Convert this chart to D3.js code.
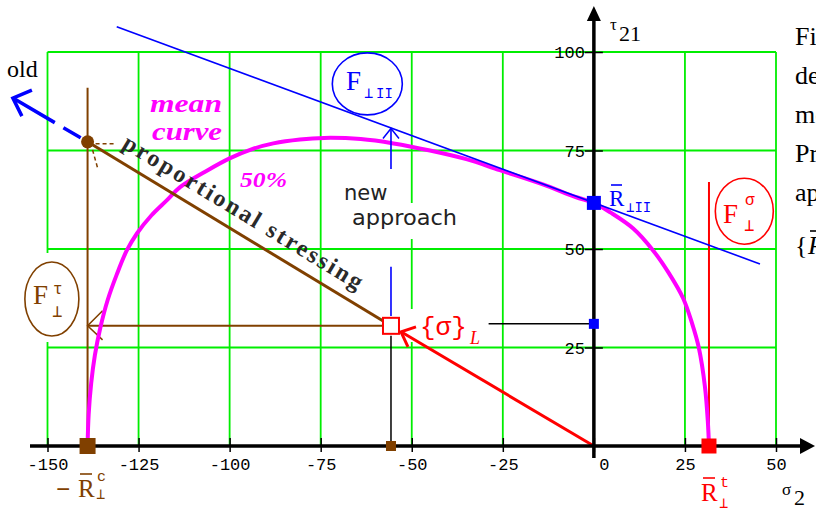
<!DOCTYPE html>
<html>
<head>
<meta charset="utf-8">
<script src="https://cdn.jsdelivr.net/npm/d3@7"></script>
<style>
  body { margin: 0; background: #fff; }
  svg { display: block; }
</style>
</head>
<body>
<svg id="chart" width="816" height="510"></svg>
<script>
// axis ticks
var xTicks = [-150, -125, -100, -75, -50, -25, 0, 25, 50];
var yTicks = [25, 50, 75, 100];

// mean (50%) failure curve [sigma2, tau21]
var meanCurve = [
  [-139, 0], [-138.7, 8], [-138, 16], [-137, 23], [-135.5, 30], [-133.5, 37],
  [-131, 43.5], [-128.3, 49.5], [-125.4, 54], [-121.5, 58.5], [-117.2, 62.4],
  [-113.6, 65.7], [-106, 70], [-100, 73], [-94, 75.3], [-88, 76.8], [-80.7, 77.8],
  [-74, 78.2], [-64, 77.9], [-55, 76.8], [-45, 75], [-35, 72.8], [-25.8, 70],
  [-14, 66.4], [-5, 63.2], [0, 61.7], [4.5, 59.3], [10.8, 55.2], [16.2, 49.7],
  [20.5, 44], [24.5, 37.5], [27, 31], [28.8, 25], [30.5, 15], [31.3, 6], [31.6, 0]
];

// tangent of the new approach
var tangentLine = [[-131, 106.4], [45.6, 46.2]];

// strengths
var Rc = -139, Rt = 31.6, Rpar = 61.7;
var stressPoint = [-55.7, 30.5];
var oldPoint = [-139, 77.2];
var oldTip = [-159.5, 88.3];
var newArrow = [[-55.7, 70.3], [-55.7, 80.6]];
var newStub = [[-55.7, 33], [-55.7, 45.5]];
var tauLevel = [[-28.9, 31], [0, 31]];
var brownTop = 90.9, redTop = 67;

var svg = d3.select("#chart");
var W = 816, H = 510;
svg.append("rect").attr("width", W).attr("height", H).attr("fill", "#fff");

var x = d3.scaleLinear().domain([-150, 50]).range([47.5, 776]);
var y = d3.scaleLinear().domain([0, 100]).range([446, 52]);

var green = "#00ee00", brown = "#804000", blue = "#0000ff", red = "#ff0000", magenta = "#ff00ff";
var mono = "'Liberation Mono', monospace", serif = "'Liberation Serif', serif";

// grid
var grid = svg.append("g").attr("stroke", green).attr("stroke-width", 1.8);
grid.selectAll(".gv").data(xTicks.filter(d => d !== 0)).enter().append("line")
    .attr("x1", d => x(d)).attr("x2", d => x(d))
    .attr("y1", y(0)).attr("y2", y(100));
grid.selectAll(".gh").data(yTicks).enter().append("line")
    .attr("x1", x(-150)).attr("x2", x(50))
    .attr("y1", d => y(d)).attr("y2", d => y(d));

// white label boxes that break the grid
var boxes = svg.append("g").attr("fill", "#fff");
boxes.append("rect").attr("x", 22).attr("y", 253).attr("width", 62).attr("height", 89);
boxes.append("rect").attr("x", 350).attr("y", 203).attr("width", 110).attr("height", 36);
boxes.append("rect").attr("x", 405).attr("y", 309).attr("width", 82).attr("height", 33);

var line = d3.line().x(d => x(d[0])).y(d => y(d[1]));

// brown guides
svg.append("line").attr("x1", x(Rc)).attr("x2", x(Rc)).attr("y1", y(0)).attr("y2", y(brownTop))
    .attr("stroke", brown).attr("stroke-width", 2);
svg.append("line").attr("x1", x(Rc)).attr("x2", x(stressPoint[0]) - 8)
    .attr("y1", y(stressPoint[1])).attr("y2", y(stressPoint[1]))
    .attr("stroke", brown).attr("stroke-width", 2);
svg.append("path")
    .attr("d", "M" + (x(Rc) + 15) + "," + (y(stressPoint[1]) - 15) + "L" + x(Rc) + "," + y(stressPoint[1]) +
               "L" + (x(Rc) + 15) + "," + (y(stressPoint[1]) + 14))
    .attr("fill", "none").attr("stroke", brown).attr("stroke-width", 1.5);

// black stub from stress point to axis
svg.append("line").attr("x1", x(stressPoint[0])).attr("x2", x(stressPoint[0]))
    .attr("y1", y(stressPoint[1]) + 10).attr("y2", y(0))
    .attr("stroke", "#000").attr("stroke-width", 1.5);
svg.append("path").attr("d", line(tauLevel)).attr("stroke", "#000").attr("stroke-width", 1.5);

// red strength line
svg.append("line").attr("x1", x(Rt)).attr("x2", x(Rt)).attr("y1", y(0)).attr("y2", y(redTop))
    .attr("stroke", red).attr("stroke-width", 2);

// mean curve
var smooth = d3.line().x(d => x(d[0])).y(d => y(d[1])).curve(d3.curveCatmullRom.alpha(0.5));
svg.append("path").attr("d", smooth(meanCurve))
    .attr("fill", "none").attr("stroke", magenta).attr("stroke-width", 4);

// tangent
svg.append("path").attr("d", line(tangentLine))
    .attr("stroke", blue).attr("stroke-width", 1.6).attr("fill", "none");

// new approach arrow
svg.append("path").attr("d", line(newArrow)).attr("stroke", blue).attr("stroke-width", 1.6);
svg.append("path").attr("d", line(newStub)).attr("stroke", blue).attr("stroke-width", 1.6);
var nt = [x(newArrow[1][0]), y(newArrow[1][1])];
svg.append("path")
    .attr("d", "M" + (nt[0] - 8) + "," + (nt[1] + 10) + "L" + nt[0] + "," + nt[1] + "L" + (nt[0] + 8) + "," + (nt[1] + 10))
    .attr("fill", "none").attr("stroke", blue).attr("stroke-width", 1.5);

// proportional stressing line
svg.append("path").attr("d", line([oldPoint, stressPoint]))
    .attr("stroke", brown).attr("stroke-width", 3).attr("fill", "none");

// old direction (dashed blue)
svg.append("path").attr("d", line([oldPoint, oldTip]))
    .attr("stroke", blue).attr("stroke-width", 3.5).attr("fill", "none")
    .attr("stroke-dasharray", "4,4,20,10,60");
var ot = [x(oldTip[0]), y(oldTip[1])];
svg.append("path")
    .attr("d", "M" + (ot[0] + 19) + "," + (ot[1] - 8) + "L" + ot[0] + "," + ot[1] + "L" + (ot[0] + 9) + "," + (ot[1] + 18))
    .attr("fill", "none").attr("stroke", blue).attr("stroke-width", 3.5);

// red stress vector
var sp = [x(stressPoint[0]) + 10, y(stressPoint[1]) + 6];
svg.append("line").attr("x1", x(0)).attr("y1", y(0)).attr("x2", sp[0]).attr("y2", sp[1])
    .attr("stroke", red).attr("stroke-width", 3);
svg.append("path")
    .attr("d", "M" + (sp[0] + 15) + "," + (sp[1] - 5) + "L" + sp[0] + "," + sp[1] + "L" + (sp[0] + 7) + "," + (sp[1] + 15))
    .attr("fill", "none").attr("stroke", red).attr("stroke-width", 3);

// axes
var axisG = svg.append("g");
axisG.append("line").attr("x1", 30).attr("x2", 802).attr("y1", y(0)).attr("y2", y(0))
    .attr("stroke", "#000").attr("stroke-width", 3.5);
axisG.append("path").attr("d", "M800," + (y(0) - 8) + "L815," + y(0) + "L800," + (y(0) + 8) + "Z");
axisG.append("line").attr("x1", x(0)).attr("x2", x(0)).attr("y1", 458).attr("y2", 20)
    .attr("stroke", "#000").attr("stroke-width", 3.5);
axisG.append("path").attr("d", "M" + (x(0) - 7) + ",21L" + x(0) + ",6L" + (x(0) + 7) + ",21Z");

var fmt = d => d < 0 ? "-" + Math.abs(d) : String(d);
var xAxis = svg.append("g").attr("transform", "translate(0," + y(0) + ")")
    .call(d3.axisBottom(x).tickValues(xTicks).tickFormat(fmt).tickSize(6));
xAxis.select(".domain").remove();
xAxis.selectAll(".tick line").attr("y1", -8).attr("y2", 6).attr("stroke-width", 1.5);
xAxis.selectAll(".tick text").attr("y", 24).attr("dy", 0)
    .attr("font-family", mono).attr("font-size", 17).attr("fill", "#000")
    .attr("dx", d => d === 0 ? 10 : 0);

var yAxis = svg.append("g").attr("transform", "translate(" + x(0) + ",0)")
    .call(d3.axisLeft(y).tickValues(yTicks).tickSize(8));
yAxis.select(".domain").remove();
yAxis.selectAll(".tick line").attr("x1", -9).attr("x2", 9).attr("stroke-width", 1.5);
yAxis.selectAll(".tick text").attr("x", -9).attr("dy", "0.35em")
    .attr("font-family", mono).attr("font-size", 17).attr("fill", "#000");

// markers
function square(cx, cy, s, fill) {
  svg.append("rect").attr("x", cx - s / 2).attr("y", cy - s / 2).attr("width", s).attr("height", s).attr("fill", fill);
}
square(x(Rc), y(0), 16, brown);
square(x(Rt), y(0), 15, red);
square(x(0), y(Rpar), 14, blue);
square(x(0), y(tauLevel[0][1]), 10, blue);
square(x(stressPoint[0]), y(0), 10, brown);
svg.append("circle").attr("cx", x(oldPoint[0])).attr("cy", y(oldPoint[1])).attr("r", 6.5).attr("fill", brown);
svg.append("path")
    .attr("d", "M" + (x(oldPoint[0]) + 8) + "," + (y(oldPoint[1]) + 2) + "L" + (x(oldPoint[0]) + 26) + "," + (y(oldPoint[1]) + 2) +
               "M" + (x(oldPoint[0]) + 5) + "," + (y(oldPoint[1]) + 8) + "L" + (x(oldPoint[0]) + 10) + "," + (y(oldPoint[1]) + 26))
    .attr("stroke", brown).attr("stroke-width", 1.5).attr("stroke-dasharray", "4,3");
svg.append("rect").attr("x", x(stressPoint[0]) - 8).attr("y", y(stressPoint[1]) - 8)
    .attr("width", 16).attr("height", 16).attr("fill", "#fff").attr("stroke", red).attr("stroke-width", 2);

// label ellipses
function ell(cx, cy, rx, ry, col) {
  svg.append("ellipse").attr("cx", cx).attr("cy", cy).attr("rx", rx).attr("ry", ry)
      .attr("fill", "#fff").attr("stroke", col).attr("stroke-width", 1.6);
}
ell(x(-62.2), y(91.9), 35, 31, blue);
ell(x(41.3), y(59.6), 29, 33, red);
ell(x(-148.8), y(37.3), 27, 37, brown);

// text helper
function txt(px, py, s, size, col, fam, extra) {
  var t = svg.append("text").attr("x", px).attr("y", py).text(s)
      .attr("font-size", size).attr("fill", col).attr("font-family", fam || mono);
  if (extra) extra(t);
  return t;
}
function bar(px, py, w, col) {
  svg.append("line").attr("x1", px).attr("x2", px + w).attr("y1", py).attr("y2", py)
      .attr("stroke", col).attr("stroke-width", 1.6);
}

// F labels
txt(346, 90, "F", 27, blue, serif);
txt(364, 98, "\u22a5", 15, blue);
txt(376, 98, "II", 14, blue);

txt(723, 223, "F", 27, red, serif);
txt(745, 205, "\u03c3", 16, red);
txt(744, 231, "\u22a5", 17, red);

txt(33, 304, "F", 27, brown, serif);
txt(53, 294, "\u03c4", 16, brown);
txt(52, 317, "\u22a5", 17, brown);

// strengths labels
txt(609, 206, "R", 23, blue, serif); bar(611, 185, 11, blue);
txt(626, 212, "\u22a5II", 14, blue);

txt(56, 497, "\u2212", 24, brown);
txt(78, 497, "R", 25, brown, serif); bar(80, 474, 12, brown);
txt(97, 481, "c", 15, brown);
txt(96, 499, "\u22a5", 15, brown);

txt(701, 501, "R", 25, red, serif); bar(703, 478, 12, red);
txt(720, 487, "t", 15, red);
txt(719, 508, "\u22a5", 15, red);

// stress label
txt(420, 335, "{\u03c3}", 26, red);
txt(470, 344, "L", 18, red, serif, t => t.attr("font-style", "italic"));

// axis titles
txt(610, 30, "\u03c4", 17, "#000", serif);
txt(619, 41, "21", 22, "#000", serif);
txt(782, 495, "\u03c3", 17, "#000", serif);
txt(794, 505, "2", 22, "#000", serif);

// annotation words
txt(7, 77, "old", 24, "#000", serif);
txt(150, 112, "mean", 26, magenta, serif, t => t.attr("font-weight", "bold").attr("font-style", "italic")
    .attr("textLength", 72).attr("lengthAdjust", "spacingAndGlyphs"));
txt(152, 140, "curve", 26, magenta, serif, t => t.attr("font-weight", "bold").attr("font-style", "italic")
    .attr("textLength", 70).attr("lengthAdjust", "spacingAndGlyphs"));
txt(240, 187, "50%", 22, magenta, serif, t => t.attr("font-weight", "bold").attr("font-style", "italic")
    .attr("textLength", 47).attr("lengthAdjust", "spacingAndGlyphs"));
txt(344, 200, "new", 21, "#222", "'DejaVu Sans', sans-serif");
txt(352, 225, "approach", 21, "#222", "'DejaVu Sans', sans-serif", t => t.attr("textLength", 105).attr("lengthAdjust", "spacingAndGlyphs"));

var ang = Math.atan2(y(stressPoint[1]) - y(oldPoint[1]), x(stressPoint[0]) - x(oldPoint[0])) * 180 / Math.PI;
svg.append("text")
    .attr("transform", "translate(" + x(-129.8) + "," + y(75.8) + ") rotate(" + ang + ")")
    .attr("font-family", serif).attr("font-size", 24).attr("font-weight", "bold").attr("fill", "#2a2a2a")
    .attr("textLength", 276).attr("lengthAdjust", "spacing")
    .text("proportional stressing");

// cut-off text of the page at the right border
var sideText = ["Fig.", "demo", "mean", "Pro", "appr"];
svg.selectAll(".side").data(sideText).enter().append("text")
    .attr("x", 795).attr("y", (d, i) => 45 + i * 39)
    .attr("font-family", serif).attr("font-size", 26).attr("fill", "#000")
    .text(d => d);
txt(795, 254, "{", 26, "#000", serif);
txt(808, 254, "R", 26, "#000", serif, t => t.attr("font-style", "italic"));
bar(810, 231, 8, "#000");
</script>
</body>
</html>
